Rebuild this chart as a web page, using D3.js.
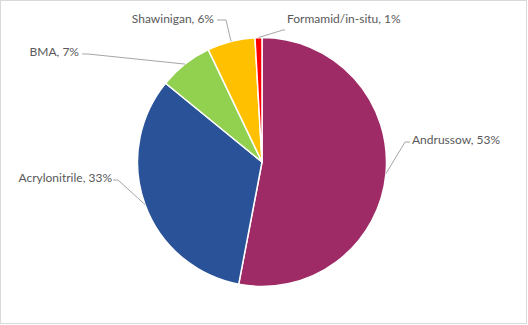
<!DOCTYPE html>
<html>
<head>
  <meta charset="utf-8">
  <script src="https://cdnjs.cloudflare.com/ajax/libs/d3/7.8.5/d3.min.js"></script>
  <title>pie</title>
  <style>
    body { margin: 0; background: #fff; }
  </style>
</head>
<body>
<script>
// data
var categorias = ["Andrussow", "Acrylonitrile", "BMA", "Shawinigan", "Formamid/in-situ"];
var valores = [53.0, 32.9, 7.0, 6.2, 0.9];
var etiquetas = ["53%", "33%", "7%", "6%", "1%"];
var colores = ["#9e2a66", "#2a5298", "#92d050", "#ffc000", "#ff0000"];

// where each label sits (layout only)
var lugar = [
  {x: 412, y: 140, anchor: "start", codo: [405, 142], fin: [410, 142]},
  {x: 112, y: 178, anchor: "end",   codo: [118, 180], fin: [113, 180]},
  {x: 79,  y: 52,  anchor: "end",   codo: [88, 54],   fin: [82, 54]},
  {x: 214, y: 18.5, anchor: "end",  codo: [226, 20],  fin: [217, 20]},
  {x: 287, y: 19,  anchor: "start", codo: [283, 30],  fin: [285, 30]}
];

var w = 528, h = 325, cx = 262, cy = 162, r = 124.5;

var svg = d3.select("body").append("svg")
  .attr("width", w)
  .attr("height", h);

svg.append("rect")
  .attr("x", 0.5).attr("y", 0.5)
  .attr("width", 526).attr("height", 323)
  .attr("fill", "#fff")
  .attr("stroke", "#d9d9d9");

var datos = categorias.map(function(c, i) {
  return {nombre: c, valor: valores[i], txt: etiquetas[i], color: colores[i], pos: lugar[i]};
});

var pie = d3.pie().sort(null).value(function(d) { return d.valor; });
var arco = d3.arc().innerRadius(0).outerRadius(r);
var borde = d3.arc().innerRadius(r).outerRadius(r);

var g = svg.append("g").attr("transform", "translate(" + cx + "," + cy + ")");

var trozos = pie(datos);

g.selectAll("path.slice").data(trozos).enter().append("path")
  .attr("class", "slice")
  .attr("d", arco)
  .attr("fill", function(d) { return d.data.color; })
  .attr("stroke", "#fff")
  .attr("stroke-width", 1.5)
  .attr("stroke-linejoin", "round");

// leader lines
svg.selectAll("polyline").data(trozos).enter().append("polyline")
  .attr("fill", "none")
  .attr("stroke", "#a6a6a6")
  .attr("stroke-width", 1)
  .attr("points", function(d) {
    var c = borde.centroid(d);
    var p = d.data.pos;
    return [[cx + c[0], cy + c[1]], p.codo, p.fin].map(function(q) { return q.join(","); }).join(" ");
  });

svg.selectAll("text.lbl").data(trozos).enter().append("text")
  .attr("class", "lbl")
  .attr("x", function(d) { return d.data.pos.x; })
  .attr("y", function(d) { return d.data.pos.y; })
  .attr("dy", "0.35em")
  .attr("text-anchor", function(d) { return d.data.pos.anchor; })
  .attr("font-family", "Lato, 'Open Sans', sans-serif")
  .attr("font-size", 12)
  .attr("fill", "#595959")
  .text(function(d) { return d.data.nombre + ", " + d.data.txt; });
</script>
</body>
</html>
